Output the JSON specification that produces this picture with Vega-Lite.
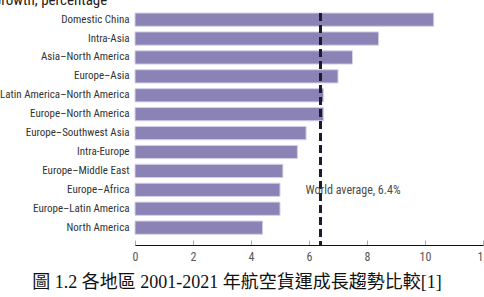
{
  "$schema": "https://vega.github.io/schema/vega-lite/v6.json",
  "width": 348,
  "height": 232,
  "autosize": {"type": "none"},
  "padding": {"left": 135, "top": 13, "right": 1, "bottom": 52},
  "background": "white",
  "title": {
    "text": "圖 1.2 各地區 2001-2021 年航空貨運成長趨勢比較[1]",
    "orient": "bottom",
    "anchor": "middle",
    "frame": "group",
    "dx": -72,
    "offset": 12,
    "font": "Liberation Serif, Noto Sans CJK TC",
    "fontSize": 18,
    "fontWeight": "normal",
    "color": "#111111"
  },
  "config": {"view": {"stroke": null}},
  "data": {
    "values": [
      {"route": "Domestic China", "growth": 10.3},
      {"route": "Intra-Asia", "growth": 8.4},
      {"route": "Asia–North America", "growth": 7.5},
      {"route": "Europe–Asia", "growth": 7.0},
      {"route": "Latin America–North America", "growth": 6.5},
      {"route": "Europe–North America", "growth": 6.5},
      {"route": "Europe–Southwest Asia", "growth": 5.9},
      {"route": "Intra-Europe", "growth": 5.6},
      {"route": "Europe–Middle East", "growth": 5.1},
      {"route": "Europe–Africa", "growth": 5.0},
      {"route": "Europe–Latin America", "growth": 5.0},
      {"route": "North America", "growth": 4.4}
    ]
  },
  "layer": [
    {
      "mark": {"type": "bar", "color": "#8b83b6", "stroke": "#d4d0e6", "strokeWidth": 1},
      "encoding": {
        "y": {
          "field": "route",
          "type": "nominal",
          "sort": null,
          "scale": {"paddingInner": 0.3, "paddingOuter": 0.284, "align": 0},
          "axis": {
            "title": "Growth, percentage",
            "titleAngle": 0,
            "titleAlign": "left",
            "titleBaseline": "alphabetic",
            "titleX": -143,
            "titleY": -8.5,
            "titleFont": "Arial Narrow, Liberation Sans Narrow, Roboto Condensed, Open Sans Condensed, Liberation Sans",
            "titleFontSize": 15,
            "titleFontWeight": "normal",
            "titleColor": "#222222",
            "ticks": false,
            "domain": false,
            "labelPadding": 6,
            "labelFont": "Arial Narrow, Liberation Sans Narrow, Roboto Condensed, Open Sans Condensed, Liberation Sans",
            "labelFontSize": 11,
            "labelColor": "#333333",
            "labelLimit": 200
          }
        },
        "x": {
          "field": "growth",
          "type": "quantitative",
          "scale": {"domain": [0, 12], "nice": false},
          "axis": {
            "title": null,
            "values": [0, 2, 4, 6, 8, 10, 12],
            "grid": false,
            "domainColor": "#111111",
            "domainWidth": 1.2,
            "tickColor": "#aaaaaa",
            "tickSize": -5,
            "labelPadding": 11,
            "labelFont": "Arial Narrow, Liberation Sans Narrow, Roboto Condensed, Open Sans Condensed, Liberation Sans",
            "labelFontSize": 12,
            "labelColor": "#555555",
            "labelFlush": false,
            "labelOverlap": false
          }
        }
      }
    },
    {
      "mark": {"type": "rule", "strokeDash": [8, 4], "strokeWidth": 2, "color": "#1c1c2c"},
      "encoding": {"x": {"datum": 6.4, "type": "quantitative"}}
    },
    {
      "data": {"values": [{"label": "World average, 6.4%", "route": "Europe–Africa", "growth": 6.4}]},
      "mark": {"type": "text", "align": "left", "baseline": "middle", "dx": -15, "font": "Arial Narrow, Liberation Sans Narrow, Roboto Condensed, Open Sans Condensed, Liberation Sans", "fontSize": 12, "color": "#4a4a4a"},
      "encoding": {
        "y": {"field": "route", "type": "nominal", "sort": null},
        "x": {"field": "growth", "type": "quantitative"},
        "text": {"field": "label"}
      }
    }
  ]
}
